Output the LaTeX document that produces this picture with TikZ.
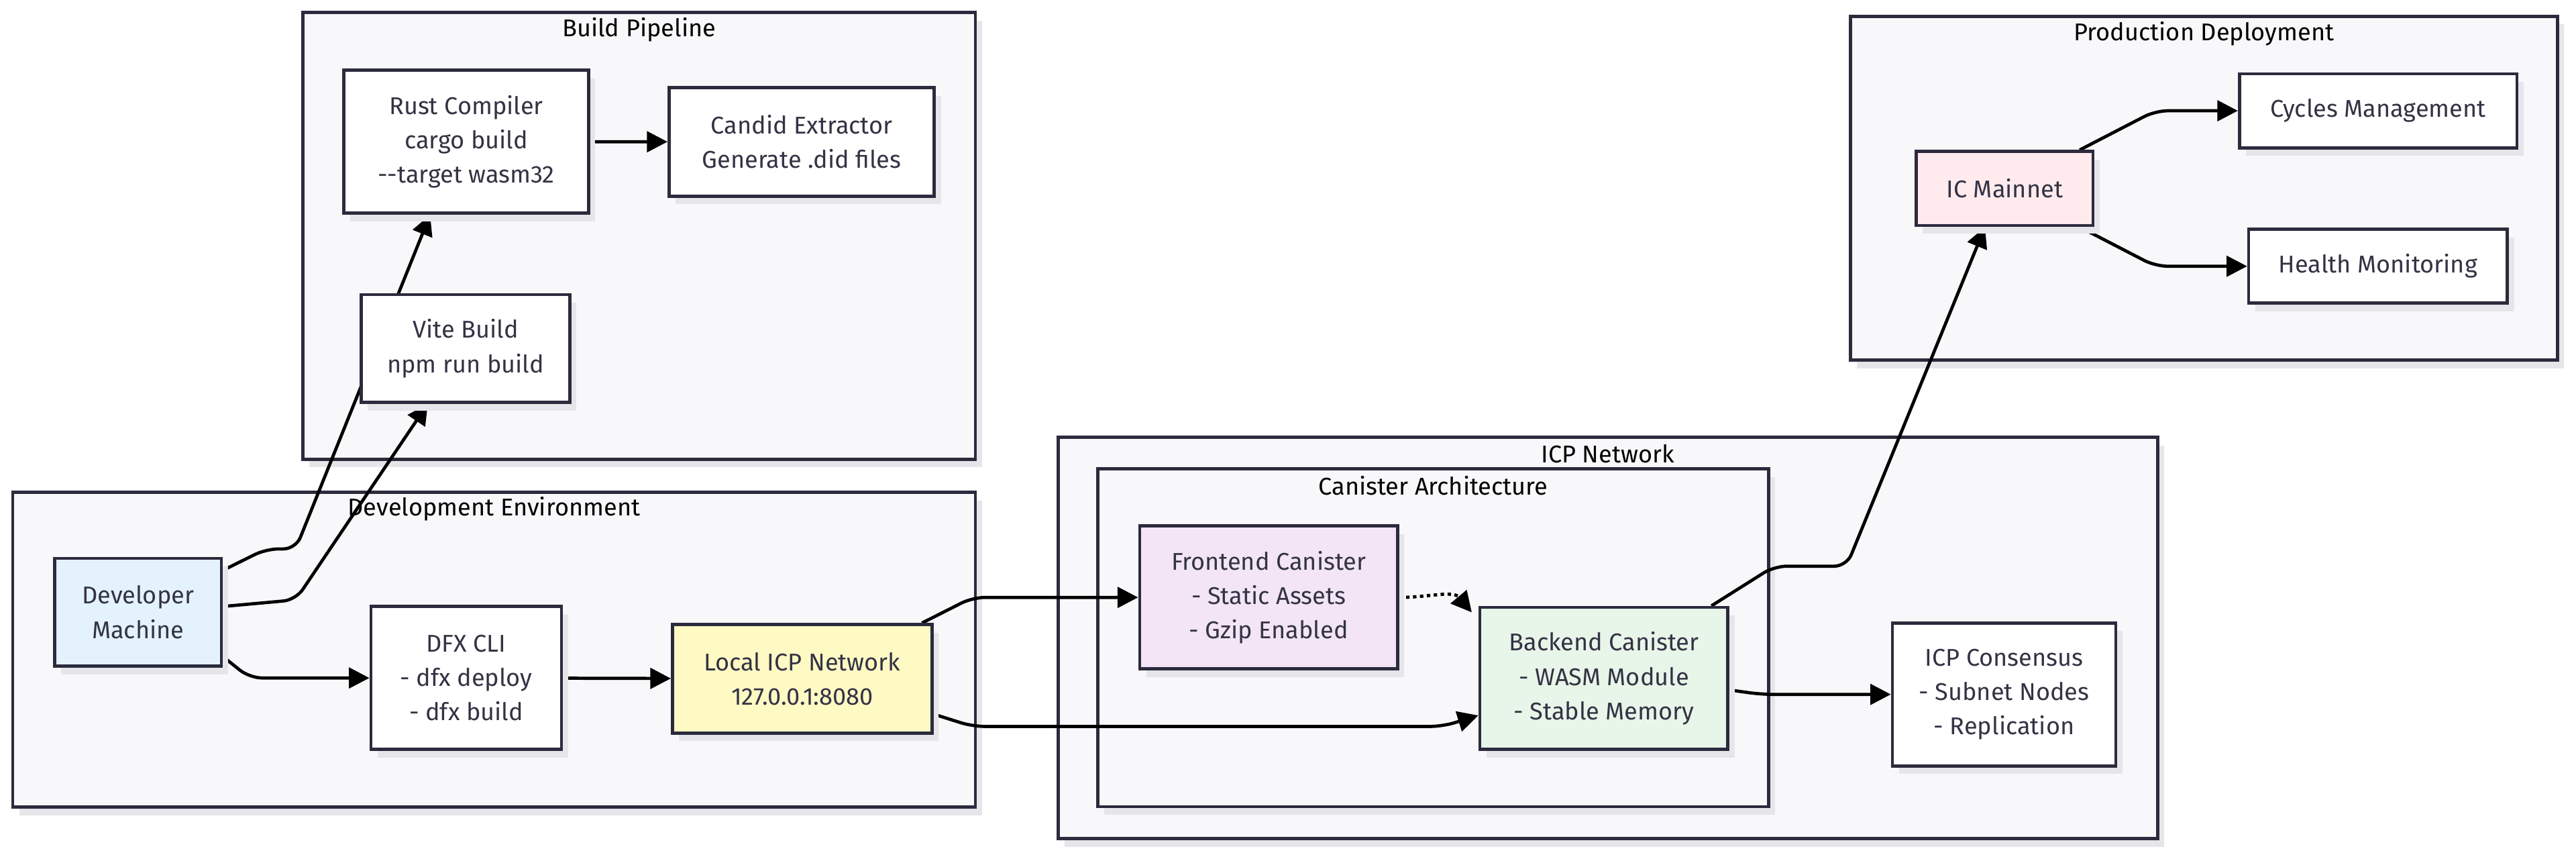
\documentclass[tikz,border=0pt]{standalone}
\usepackage{fontspec}
\setmainfont{Fira Sans}
\usepackage{tikz}
\usetikzlibrary{arrows.meta, positioning, calc, fit, backgrounds, shadows}
\usepackage{xcolor}

\definecolor{boxline}{HTML}{2B2B3D}
\definecolor{boxtext}{HTML}{333344}
\definecolor{clusterfill}{HTML}{F8F8FA}
\definecolor{shadowgrey}{HTML}{E6E6EA}
\definecolor{devblue}{HTML}{E3F2FD}
\definecolor{localyellow}{HTML}{FFF9C4}
\definecolor{frontpurple}{HTML}{F3E5F5}
\definecolor{backgreen}{HTML}{E8F5E9}
\definecolor{mainpink}{HTML}{FFEBEE}

\pgfdeclarelayer{edges}
\pgfsetlayers{background,edges,main}

\begin{document}
\begin{tikzpicture}[
    x=0.02cm, y=-0.02cm,
    cluster/.style={rectangle, draw=boxline, line width=1.1pt, fill=clusterfill, inner sep=0pt,
        drop shadow={shadow xshift=0.08cm, shadow yshift=-0.1cm, fill=shadowgrey, opacity=1}},
    clustertitle/.style={font=\fontsize{8.4}{10}\selectfont, text=black, inner sep=0pt},
    box/.style={rectangle, draw=boxline, line width=1.1pt, fill=white, text=boxtext, align=center,
        inner sep=2pt, font=\fontsize{8.4}{11.9}\selectfont,
        drop shadow={shadow xshift=0.08cm, shadow yshift=-0.1cm, fill=shadowgrey, opacity=1}},
    flow/.style={-{Triangle[length=0.25cm, width=0.25cm]}, line width=1.1pt, rounded corners=0.15cm},
    dotflow/.style={flow, dash pattern=on 1.2pt off 1.2pt}
]
    \useasboundingbox (0,0) rectangle (1568,520);

    % Subgraph frames and their titles
    \begin{scope}[on background layer]
        \node[cluster, fit={(184.4,7.7) (593.7,279.4)}] (build) {};
        \node[clustertitle] (buildtitle) at (389,18.2) {Build Pipeline};

        \node[cluster, fit={(7.8,299.6) (593.7,491)}] (devenv) {};
        \node[clustertitle] (devenvtitle) at (300.7,309.8) {Development Environment};

        \node[cluster, fit={(644,266) (1313.3,510.3)}] (icpnet) {};
        \node[clustertitle] (icpnettitle) at (978.6,276) {ICP Network};

        \node[cluster, fit={(668.3,285.3) (1076.5,490.8)}] (canarch) {};
        \node[clustertitle] (canarchtitle) at (872.4,295.6) {Canister Architecture};

        \node[cluster, fit={(1126.3,9.9) (1556.7,219)}] (prod) {};
        \node[clustertitle] (prodtitle) at (1341.5,20.4) {Production Deployment};
    \end{scope}

    % Build pipeline
    \node[box, minimum width=2.98cm, minimum height=1.74cm] (rust) at (283.8,86.2) {Rust Compiler\\cargo build\\{-}{-}target wasm32};
    \node[box, minimum width=3.23cm, minimum height=1.32cm] (candid) at (488,86.3) {Candid Extractor\\Generate .did files};
    \node[box, minimum width=2.54cm, minimum height=1.31cm] (vite) at (283.4,212) {Vite Build\\npm run build};

    % Development environment
    \node[box, fill=devblue, minimum width=2.03cm, minimum height=1.31cm] (dev) at (84,372.5) {Developer\\Machine};
    \node[box, minimum width=2.32cm, minimum height=1.74cm] (dfx) at (283.8,412.5) {DFX CLI\\- dfx deploy\\- dfx build};
    \node[box, fill=localyellow, minimum width=3.16cm, minimum height=1.32cm] (local) at (488.3,413) {Local ICP Network\\127.0.0.1:8080};

    % ICP network
    \node[box, fill=frontpurple, minimum width=3.14cm, minimum height=1.74cm] (frontend) at (772.2,363.5) {Frontend Canister\\- Static Assets\\- Gzip Enabled};
    \node[box, fill=backgreen, minimum width=3.02cm, minimum height=1.73cm] (backend) at (976.3,412.8) {Backend Canister\\- WASM Module\\- Stable Memory};
    \node[box, minimum width=2.72cm, minimum height=1.74cm] (consensus) at (1219.9,422.5) {ICP Consensus\\- Subnet Nodes\\- Replication};

    % Production deployment
    \node[box, fill=mainpink, minimum width=2.15cm, minimum height=0.9cm] (icmain) at (1220.2,114.7) {IC Mainnet};
    \node[box, minimum width=3.38cm, minimum height=0.9cm] (cycles) at (1447.6,67.4) {Cycles Management};
    \node[box, minimum width=3.15cm, minimum height=0.9cm] (health) at (1447.5,162) {Health Monitoring};

    % Connectors, kept under the boxes
    \begin{pgfonlayer}{edges}
        \draw[flow] ($(dev.east)+(0,-25.5)$) -- (162,334) -- (180,334) -- ($(rust.south)+(-22,0)$);
        \draw[flow] ($(dev.east)+(0,-3.5)$) -- (180,365) -- ($(vite.south)+(-23,0)$);
        \draw[flow] ($(dev.east)+(0,27)$) -- (152,412.5) -- (dfx.west);
        \draw[flow] (dfx) -- (local);
        \draw[flow] (rust) -- (candid);

        % local replica into the canisters
        \draw[flow] ($(local.north east)+(-7,0)$) -- (592,363.5) -- (frontend.west);
        \draw[flow] ($(local.east)+(0,21.5)$) -- (592,442) -- (878,442) -- ($(backend.west)+(0,22.5)$);
        \draw[dotflow] (frontend.east) to[out=0, in=130] ($(backend.north west)+(-4,4)$);
        \draw[flow] ($(backend.east)+(0,7)$) -- (1072,422.5) -- (consensus.west);

        % up to mainnet
        \draw[flow] ($(backend.north east)+(-11,0)$) -- (1080,344.5) -- (1124,344.5) -- ($(icmain.south)+(-12,0)$);
        \draw[flow] ($(icmain.north east)+(-9,0)$) -- (1312,67.4) -- (cycles.west);
        \draw[flow] ($(icmain.south east)+(-9,0)$) -- (1312,162) -- (health.west);
    \end{pgfonlayer}
\end{tikzpicture}
\end{document}
